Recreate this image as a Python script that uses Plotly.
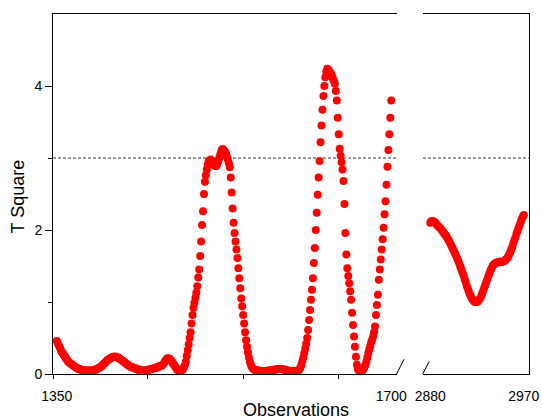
import plotly.graph_objects as go

# ---------------- data ----------------
obs_left_start, obs_left_end = 1350, 1700
obs_right_start, obs_right_end = 2880, 2970
obs_left = list(range(obs_left_start, obs_left_end + 1))
obs_right = list(range(obs_right_start, obs_right_end + 1))

t2_left = [
    0.46, 0.43, 0.40, 0.37, 0.34, 0.31, 0.29, 0.27, 0.25, 0.23,  # 1350
    0.21, 0.19, 0.17, 0.16, 0.15, 0.14, 0.13, 0.12, 0.11, 0.10,  # 1360
    0.09, 0.08, 0.08, 0.07, 0.07, 0.06, 0.06, 0.06, 0.05, 0.05,  # 1370
    0.05, 0.05, 0.05, 0.05, 0.05, 0.05, 0.05, 0.05, 0.05, 0.06,  # 1380
    0.06, 0.06, 0.07, 0.08, 0.08, 0.09, 0.10, 0.11, 0.12, 0.14,  # 1390
    0.15, 0.16, 0.18, 0.19, 0.20, 0.21, 0.22, 0.23, 0.23, 0.24,  # 1400
    0.24, 0.24, 0.24, 0.23, 0.23, 0.22, 0.21, 0.20, 0.19, 0.18,  # 1410
    0.17, 0.16, 0.15, 0.14, 0.13, 0.12, 0.11, 0.10, 0.10, 0.09,  # 1420
    0.09, 0.08, 0.08, 0.07, 0.07, 0.06, 0.06, 0.06, 0.05, 0.05,  # 1430
    0.05, 0.05, 0.05, 0.05, 0.05, 0.06, 0.06, 0.06, 0.07, 0.07,  # 1440
    0.07, 0.08, 0.08, 0.08, 0.09, 0.09, 0.10, 0.10, 0.11, 0.11,  # 1450
    0.12, 0.13, 0.15, 0.17, 0.19, 0.21, 0.22, 0.22, 0.21, 0.20,  # 1460
    0.18, 0.16, 0.14, 0.12, 0.10, 0.08, 0.06, 0.05, 0.04, 0.04,  # 1470
    0.04, 0.05, 0.07, 0.09, 0.12, 0.17, 0.25, 0.33, 0.41, 0.50,  # 1480
    0.58, 0.70, 0.82, 0.92, 0.99, 1.06, 1.13, 1.22, 1.34, 1.45,  # 1490
    1.64, 1.84, 2.07, 2.26, 2.50, 2.67, 2.76, 2.84, 2.91, 2.96,  # 1500
    2.97, 2.98, 2.96, 2.93, 2.91, 2.90, 2.89, 2.89, 2.92, 2.96,  # 1510
    3.00, 3.05, 3.09, 3.12, 3.12, 3.10, 3.09, 3.06, 3.02, 2.98,  # 1520
    2.93, 2.87, 2.73, 2.52, 2.30, 2.10, 1.96, 1.84, 1.73, 1.61,  # 1530
    1.47, 1.33, 1.19, 1.05, 0.94, 0.82, 0.70, 0.58, 0.47, 0.38,  # 1540
    0.30, 0.23, 0.17, 0.13, 0.10, 0.08, 0.07, 0.06, 0.05, 0.05,  # 1550
    0.05, 0.05, 0.05, 0.04, 0.04, 0.04, 0.04, 0.04, 0.04, 0.04,  # 1560
    0.04, 0.05, 0.05, 0.05, 0.05, 0.05, 0.06, 0.06, 0.06, 0.06,  # 1570
    0.07, 0.07, 0.07, 0.07, 0.07, 0.07, 0.07, 0.06, 0.06, 0.06,  # 1580
    0.05, 0.05, 0.05, 0.04, 0.04, 0.04, 0.04, 0.04, 0.04, 0.04,  # 1590
    0.04, 0.04, 0.04, 0.05, 0.07, 0.09, 0.13, 0.18, 0.23, 0.29,  # 1600
    0.35, 0.42, 0.50, 0.61, 0.75, 0.89, 1.03, 1.17, 1.33, 1.54,  # 1610
    1.75, 2.00, 2.24, 2.49, 2.73, 2.96, 3.22, 3.45, 3.67, 3.86,  # 1620
    4.00, 4.12, 4.20, 4.24, 4.23, 4.21, 4.19, 4.17, 4.14, 4.10,  # 1630
    4.07, 4.03, 3.93, 3.80, 3.56, 3.33, 3.13, 3.03, 2.94, 2.84,  # 1640
    2.68, 2.36, 1.96, 1.66, 1.47, 1.36, 1.26, 1.15, 1.03, 0.85,  # 1650
    0.68, 0.52, 0.38, 0.24, 0.13, 0.07, 0.05, 0.04, 0.04, 0.04,  # 1660
    0.05, 0.07, 0.10, 0.13, 0.17, 0.23, 0.29, 0.34, 0.39, 0.44,  # 1670
    0.48, 0.52, 0.58, 0.66, 0.82, 0.96, 1.10, 1.31, 1.45, 1.59,  # 1680
    1.73, 1.87, 2.03, 2.22, 2.40, 2.63, 2.88, 3.11, 3.33, 3.56,  # 1690
    3.80,                                                        # 1700
]

t2_right = [
    2.10, 2.12, 2.12, 2.12, 2.11, 2.10, 2.08, 2.06, 2.05, 2.03,  # 2880
    2.02, 2.00, 1.98, 1.96, 1.94, 1.92, 1.90, 1.87, 1.85, 1.82,  # 2890
    1.79, 1.76, 1.73, 1.70, 1.67, 1.64, 1.60, 1.57, 1.53, 1.49,  # 2900
    1.45, 1.41, 1.37, 1.32, 1.28, 1.23, 1.19, 1.15, 1.11, 1.08,  # 2910
    1.05, 1.03, 1.01, 1.00, 1.00, 1.00, 1.01, 1.03, 1.05, 1.08,  # 2920
    1.12, 1.16, 1.20, 1.24, 1.28, 1.32, 1.36, 1.40, 1.44, 1.47,  # 2930
    1.50, 1.52, 1.53, 1.54, 1.55, 1.55, 1.56, 1.56, 1.56, 1.56,  # 2940
    1.56, 1.57, 1.58, 1.59, 1.61, 1.63, 1.66, 1.69, 1.73, 1.77,  # 2950
    1.82, 1.86, 1.90, 1.95, 1.99, 2.03, 2.07, 2.11, 2.15, 2.18,  # 2960
    2.21,                                                        # 2970
]

threshold = 3.0
y_ticks = [0, 2, 4]
y_minor = [1, 3]
x_left_labels = [1350, 1700]
x_left_minor = [1346, 1445, 1545, 1645]
x_right_labels = [2880, 2970]

# ---------------- figure ----------------
FONT = "Liberation Sans, Arial, sans-serif"
RED = "#FF0000"

fig = go.Figure()
fig.add_trace(go.Scatter(
    x=obs_left, y=t2_left, mode="markers", xaxis="x", yaxis="y",
    marker=dict(color=RED, size=8, line=dict(width=0)), showlegend=False,
))
fig.add_trace(go.Scatter(
    x=obs_right, y=t2_right, mode="markers", xaxis="x2", yaxis="y2",
    marker=dict(color=RED, size=8, line=dict(width=0)), showlegend=False,
))

axis_common = dict(showgrid=False, zeroline=False, showline=True,
                   linecolor="black", linewidth=1, automargin=False,
                   tickfont=dict(family=FONT, size=14, color="black"))

fig.update_layout(
    template="none",
    width=542, height=418,
    margin=dict(l=53, r=13, t=14, b=44, pad=0),
    paper_bgcolor="white", plot_bgcolor="white",
    font=dict(family=FONT, size=14, color="black"),
    xaxis=dict(
        domain=[0, 0.7227], range=[1346, 1706], anchor="y", mirror=True,
        tickmode="array", tickvals=x_left_labels,
        ticktext=[str(v) for v in x_left_labels],
        ticks="outside", ticklen=9, tickcolor="rgba(0,0,0,0)",
        minor=dict(tickmode="array", tickvals=x_left_minor, ticks="outside",
                   ticklen=4, tickcolor="black", tickwidth=1, showgrid=False),
        **axis_common,
    ),
    xaxis2=dict(
        domain=[0.7773, 1], range=[2873, 2975], anchor="y2", mirror=True,
        tickmode="array", tickvals=x_right_labels,
        ticktext=[str(v) for v in x_right_labels],
        ticks="outside", ticklen=9, tickcolor="rgba(0,0,0,0)",
        **axis_common,
    ),
    yaxis=dict(
        domain=[0, 1], range=[0, 5], anchor="x",
        tickmode="array", tickvals=y_ticks,
        ticks="outside", ticklen=7, tickcolor="black",
        minor=dict(tickmode="array", tickvals=y_minor, ticks="outside",
                   ticklen=4, tickcolor="black", tickwidth=1, showgrid=False),
        **axis_common,
    ),
    yaxis2=dict(
        domain=[0, 1], range=[0, 5], anchor="x2", side="right",
        showticklabels=False, ticks="", automargin=False,
        showgrid=False, zeroline=False, showline=True,
        linecolor="black", linewidth=1,
    ),
)

dash_line = dict(color="#333333", width=1, dash="3px,2px")
brk = dict(color="black", width=1)
fig.update_layout(shapes=[
    dict(type="line", xref="x domain", yref="y", x0=0, x1=1,
         y0=threshold, y1=threshold, line=dash_line, layer="below"),
    dict(type="line", xref="x2 domain", yref="y2", x0=0, x1=1,
         y0=threshold, y1=threshold, line=dash_line, layer="below"),
    # axis-break marks
    dict(type="line", xref="x domain", yref="y domain",
         x0=0.999, y0=0, x1=1.0203, y1=0.041, line=brk),
    dict(type="line", xref="x2 domain", yref="y2 domain",
         x0=-0.003, y0=0, x1=0.0594, y1=0.035, line=brk),
])

fig.update_layout(annotations=[
    dict(text="Observations", xref="paper", yref="paper", x=0.5105, y=-0.1,
         xanchor="center", yanchor="middle", showarrow=False,
         font=dict(family=FONT, size=18, color="black")),
    dict(text="T Square", xref="paper", yref="paper", x=-0.0735, y=0.493,
         xanchor="center", yanchor="middle", textangle=-90, showarrow=False,
         font=dict(family=FONT, size=18, color="black")),
])

# remove the default page margin so the 542x418 figure fills the window
fig.write_html(
    "out.html",
    config={"displayModeBar": False},
    post_script="document.body.style.margin='0';"
                "document.body.style.overflow='hidden';",
)
